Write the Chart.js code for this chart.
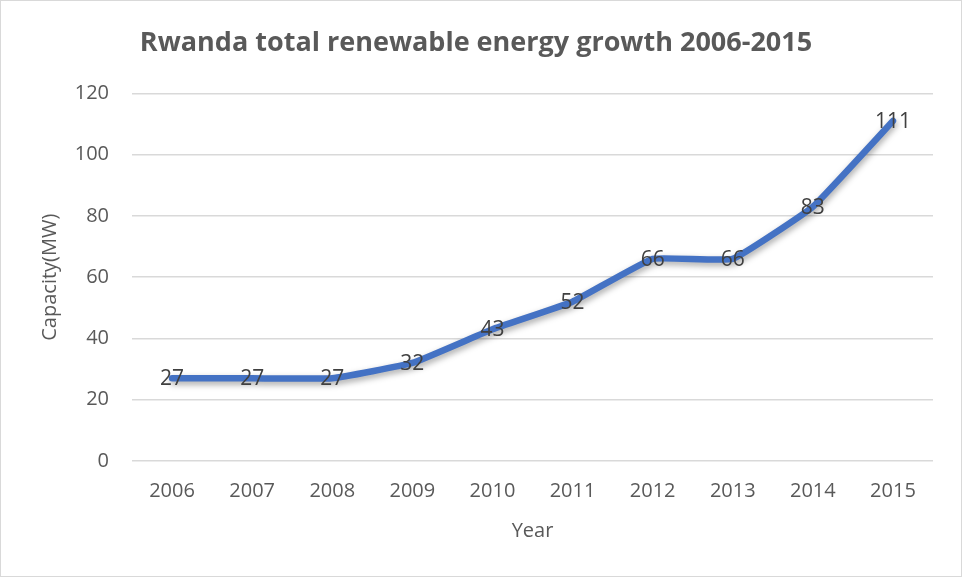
<!DOCTYPE html>
<html>
<head>
<meta charset="utf-8">
<script src="https://cdn.jsdelivr.net/npm/chart.js@4/dist/chart.umd.min.js"></script>
<style>
  html, body { margin: 0; padding: 0; background: #fff; }
  #wrap { width: 960px; height: 575px; border: 1px solid #d9d9d9; position: relative; }
  canvas { display: block; }
</style>
</head>
<body>
<div id="wrap"><canvas id="c" width="960" height="575"></canvas></div>
<script>
const years = ["2006","2007","2008","2009","2010","2011","2012","2013","2014","2015"];
const capacity = [27, 27, 27, 32, 43, 52, 66, 66, 83, 111];
const yTicks = [0, 20, 40, 60, 80, 100, 120];

const FONT = "'Open Sans', 'Liberation Sans', sans-serif";

const labelPlugin = {
  id: 'pointLabels',
  afterDatasetsDraw(chart) {
    const ctx = chart.ctx;
    const meta = chart.getDatasetMeta(0);
    ctx.save();
    ctx.font = "21px " + FONT;
    ctx.fillStyle = '#404040';
    ctx.textAlign = 'center';
    ctx.textBaseline = 'middle';
    meta.data.forEach((pt, i) => {
      ctx.fillText(String(chart.data.datasets[0].data[i]), pt.x, pt.y + 1);
    });
    ctx.restore();
  }
};

const shadowPlugin = {
  id: 'lineShadow',
  beforeDatasetDraw(chart) {
    const ctx = chart.ctx;
    ctx.save();
    ctx.shadowColor = 'rgba(0,0,0,0.35)';
    ctx.shadowBlur = 6;
    ctx.shadowOffsetX = 1;
    ctx.shadowOffsetY = 3;
  },
  afterDatasetDraw(chart) {
    chart.ctx.restore();
  }
};

new Chart(document.getElementById('c'), {
  type: 'line',
  data: {
    labels: years,
    datasets: [{
      data: capacity,
      borderColor: '#4472C4',
      borderWidth: 6.5,
      pointRadius: 0,
      tension: 0.1,
      borderCapStyle: 'round',
      borderJoinStyle: 'round',
      fill: false
    }]
  },
  options: {
    responsive: false,
    animation: false,
    devicePixelRatio: 1,
    layout: { padding: { left: 18, right: 28, top: 4, bottom: 33 } },
    plugins: {
      legend: { display: false },
      tooltip: { enabled: false },
      title: {
        display: true,
        text: 'Rwanda total renewable energy growth 2006-2015',
        color: '#595959',
        font: { family: FONT, size: 27, weight: 'bold' },
        padding: { top: 22, bottom: 34 }
      }
    },
    scales: {
      x: {
        offset: true,
        grid: { display: false, drawTicks: false },
        border: { display: false },
        ticks: { color: '#595959', font: { family: FONT, size: 20 }, padding: 18, maxRotation: 0 },
        title: { display: true, text: 'Year', color: '#595959', font: { family: FONT, size: 20 }, padding: { top: -2, bottom: 0 } }
      },
      y: {
        min: 0, max: 120,
        afterBuildTicks(axis) { axis.ticks = yTicks.map(v => ({ value: v })); },
        afterFit(axis) { axis.width = 113; },
        grid: { color: '#d9d9d9', lineWidth: 1.5, drawTicks: false },
        border: { display: false },
        ticks: { color: '#595959', font: { family: FONT, size: 20 }, padding: 23 },
        title: { display: true, text: 'Capacity(MW)', color: '#595959', font: { family: FONT, size: 20 }, padding: { top: 19, bottom: 0 } }
      }
    }
  },
  plugins: [shadowPlugin, labelPlugin]
});
</script>
</body>
</html>
